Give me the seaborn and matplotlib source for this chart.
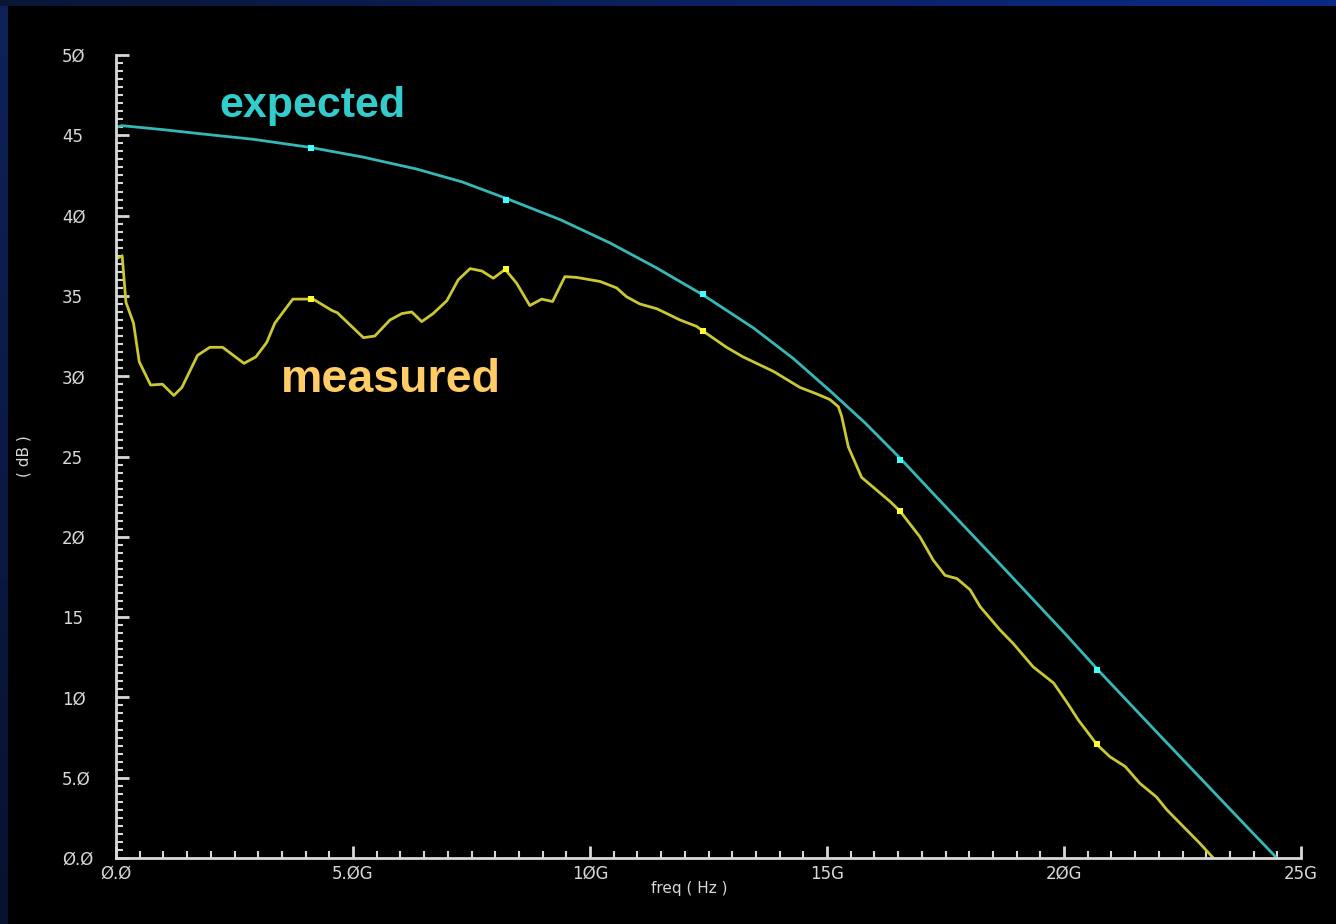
import numpy as np
import pandas as pd
import matplotlib
matplotlib.use("Agg")
import matplotlib.pyplot as plt
import seaborn as sns
from matplotlib.ticker import FixedLocator, MultipleLocator

# frequency in GHz, magnitude in dB
expected_freq = [0.0, 0.12, 1.0, 1.77, 2.9, 4.09, 5.2, 6.34, 7.3, 8.25, 9.37, 10.42,
                 11.4, 12.39, 13.45, 14.29, 15.06, 15.8, 16.54, 17.35, 18.65, 20.06,
                 20.72, 22.0, 23.92, 24.49]
expected_db = [45.5, 45.6, 45.35, 45.1, 44.75, 44.25, 43.65, 42.9, 42.1, 41.05, 39.75, 38.3,
               36.75, 35.05, 33.0, 31.1, 29.1, 27.1, 24.9, 22.35, 18.3, 13.85,
               11.7, 7.7, 1.75, 0.0]

measured_freq = [0.0, 0.13, 0.21, 0.37, 0.49, 0.73, 0.98, 1.22, 1.39, 1.72, 1.98,
                 2.25, 2.70, 2.95, 3.18, 3.35, 3.73, 4.16, 4.55, 4.67, 5.22, 5.46,
                 5.78, 6.03, 6.24, 6.45, 6.69, 6.98, 7.22, 7.47, 7.72, 7.96, 8.21,
                 8.45, 8.73, 8.98, 9.21, 9.47, 9.72, 10.21, 10.56, 10.77, 11.05,
                 11.41, 11.9, 12.25, 12.39, 12.88, 13.23, 13.87, 14.43, 14.78,
                 15.06, 15.24, 15.31, 15.45, 15.73, 16.01, 16.33, 16.54, 16.96,
                 17.24, 17.49, 17.74, 18.02, 18.23, 18.65, 18.93, 19.35, 19.78,
                 20.06, 20.3, 20.48, 20.69, 20.97, 21.29, 21.6, 21.95, 22.17,
                 22.52, 22.87, 23.15]
measured_db = [37.3, 37.5, 34.6, 33.3, 30.9, 29.45, 29.5, 28.8, 29.3, 31.3, 31.8,
               31.8, 30.8, 31.2, 32.1, 33.3, 34.8, 34.8, 34.1, 33.95, 32.4, 32.5,
               33.5, 33.9, 34.0, 33.4, 33.9, 34.7, 36.0, 36.7, 36.55, 36.1, 36.65,
               35.8, 34.4, 34.8, 34.65, 36.2, 36.15, 35.9, 35.5, 34.95, 34.5,
               34.2, 33.5, 33.1, 32.8, 31.8, 31.2, 30.3, 29.3, 28.9,
               28.55, 28.1, 27.5, 25.6, 23.7, 23.0, 22.2, 21.6, 20.0,
               18.55, 17.6, 17.4, 16.7, 15.65, 14.2, 13.35, 11.9, 10.9,
               9.7, 8.6, 7.9, 7.08, 6.3, 5.7, 4.65, 3.8, 3.0,
               1.95, 0.9, 0.0]

marker_freq = [4.12, 8.23, 12.39, 16.54, 20.7]
expected_marker_db = [44.2, 41.0, 35.1, 24.8, 11.7]
measured_marker_db = [34.8, 36.65, 32.8, 21.6, 7.08]

x_ticks = [0, 5, 10, 15, 20, 25]
x_labels = ["Ø.Ø", "5.ØG", "1ØG", "15G", "2ØG", "25G"]
y_ticks = [0, 5, 10, 15, 20, 25, 30, 35, 40, 45, 50]
y_labels = ["Ø.Ø", "5.Ø", "1Ø", "15", "2Ø", "25", "3Ø", "35", "4Ø", "45", "5Ø"]

CYAN = "#36b8b8"
YELLOW = "#c9c832"
AXIS = "#d8d8d8"

sns.set_theme(style="dark", rc={
    "figure.facecolor": "black",
    "axes.facecolor": "black",
    "axes.edgecolor": AXIS,
    "text.color": AXIS,
    "xtick.color": AXIS,
    "ytick.color": AXIS,
})
plt.rcParams["font.family"] = ["DejaVu Sans"]

exp_df = pd.DataFrame({"freq": expected_freq, "db": expected_db})
meas_df = pd.DataFrame({"freq": measured_freq, "db": measured_db})

fig = plt.figure(figsize=(13.36, 9.24), dpi=100)
ax = fig.add_axes([116 / 1336, 1 - 858 / 924, (1301 - 116) / 1336, (858 - 55) / 924])

sns.lineplot(data=exp_df, x="freq", y="db", color=CYAN, linewidth=2.0, ax=ax)
sns.lineplot(data=meas_df, x="freq", y="db", color=YELLOW, linewidth=2.0, ax=ax)
sns.scatterplot(x=marker_freq, y=expected_marker_db, color="#40ffff", marker="s",
                s=22, linewidth=0, ax=ax, zorder=5)
sns.scatterplot(x=marker_freq, y=measured_marker_db, color="#ffff30", marker="s",
                s=22, linewidth=0, ax=ax, zorder=5)

ax.set_xlim(0, 25)
ax.set_ylim(0, 50)
for side in ["top", "right"]:
    ax.spines[side].set_visible(False)
for side in ["left", "bottom"]:
    ax.spines[side].set_linewidth(2)
    ax.spines[side].set_color(AXIS)

ax.xaxis.set_major_locator(FixedLocator(x_ticks))
ax.set_xticklabels(x_labels)
ax.xaxis.set_minor_locator(MultipleLocator(0.5))
ax.yaxis.set_major_locator(FixedLocator(y_ticks))
ax.set_yticklabels(y_labels)
ax.yaxis.set_minor_locator(MultipleLocator(0.5))

ax.tick_params(axis="both", which="both", direction="in", colors=AXIS,
               bottom=True, left=True, labelsize=12)
ax.tick_params(axis="both", which="major", length=9, width=2)
ax.tick_params(axis="both", which="minor", length=5, width=1.5)
ax.tick_params(axis="x", which="major", pad=5)
ax.tick_params(axis="y", which="major", pad=39)
for t in ax.get_yticklabels():
    t.set_ha("left")

ax.set_xlabel("freq ( Hz )", fontsize=11, color=AXIS)
ax.set_ylabel("( dB )", fontsize=11, color=AXIS)
ax.xaxis.set_label_coords(0.4835, -0.029)
ax.yaxis.set_label_coords(-0.071, 0.5)
ax.grid(False)

ax.text(2.19, 46.16, "expected", color="#33cccc", fontsize=31, fontweight="bold",
        family="Liberation Sans", ha="left", va="baseline")
ax.text(3.48, 29.03, "measured", color="#ffcc66", fontsize=33.5, fontweight="bold",
        family="Liberation Sans", ha="left", va="baseline")

# slide background strips at top and left edge
top = fig.add_axes([0, 1 - 6 / 924, 1, 6 / 924])
top.imshow(np.linspace(0, 1, 256).reshape(1, -1),
           cmap=matplotlib.colors.LinearSegmentedColormap.from_list("t", ["#0a1636", "#0b2a86"]),
           aspect="auto")
top.axis("off")
left = fig.add_axes([0, 0, 8 / 1336, 1 - 6 / 924])
left.imshow(np.linspace(0, 1, 256).reshape(-1, 1),
            cmap=matplotlib.colors.LinearSegmentedColormap.from_list("l", ["#0e2258", "#071230"]),
            aspect="auto")
left.axis("off")

fig.savefig("out.png", dpi=100, facecolor="black")
plt.close()
